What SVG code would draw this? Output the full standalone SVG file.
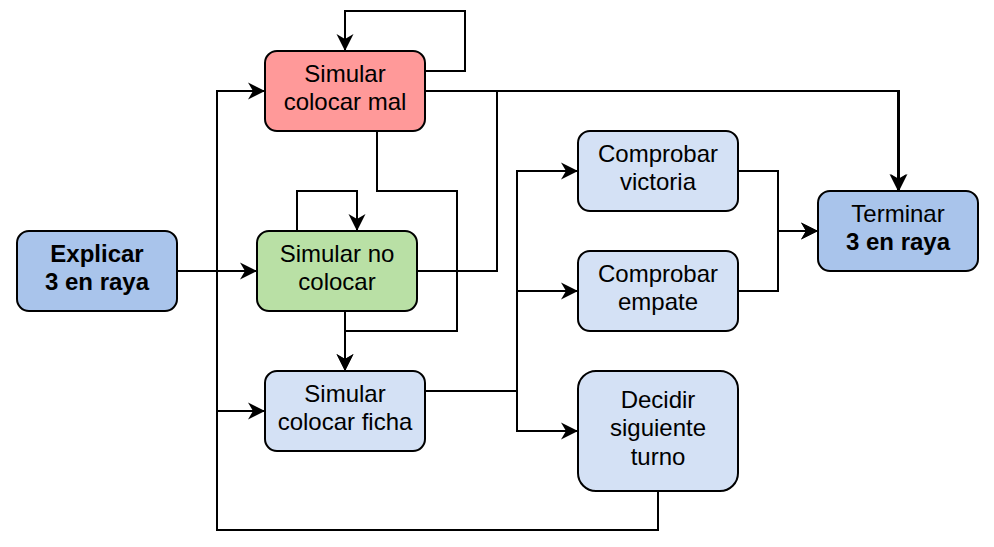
<svg xmlns="http://www.w3.org/2000/svg" width="994" height="547" viewBox="0 0 994 547">
<style>
.box{stroke:#000;stroke-width:2}
.blue{fill:#A9C4EB}
.light{fill:#D4E1F5}
.red{fill:#FF9999}
.green{fill:#B9E0A5}
text{font-family:"Liberation Sans",Arial,Helvetica,sans-serif;font-size:24px;fill:#000;text-anchor:middle}
.b{font-weight:bold}
.edge{fill:none;stroke:#000;stroke-width:2;marker-end:url(#arr)}
.plain{fill:none;stroke:#000;stroke-width:2}
</style>
<defs>
<marker id="arr" viewBox="0 0 18 18" refX="17" refY="9" markerWidth="18" markerHeight="18" orient="auto" markerUnits="userSpaceOnUse">
<path d="M0,0.5 L17,9 L0,17.5 L5,9 Z" fill="#000"/>
</marker>
</defs>
<rect width="994" height="547" fill="#fff"/>
<g id="explicar">
<rect class="box blue" x="17" y="231" width="160" height="80" rx="12"/>
<text class="b" x="97" y="261.7">Explicar</text>
<text class="b" x="97" y="290">3 en raya</text>
</g>
<g id="colocar-mal">
<rect class="box red" x="265" y="51" width="160" height="80" rx="12"/>
<text x="345" y="81.7">Simular</text>
<text x="345" y="110">colocar mal</text>
</g>
<g id="no-colocar">
<rect class="box green" x="257" y="231" width="160" height="80" rx="12"/>
<text x="337" y="261.7">Simular no</text>
<text x="337" y="290">colocar</text>
</g>
<g id="colocar-ficha">
<rect class="box light" x="265" y="371" width="160" height="80" rx="12"/>
<text x="345" y="401.7">Simular</text>
<text x="345" y="430">colocar ficha</text>
</g>
<g id="victoria">
<rect class="box light" x="578" y="131" width="160" height="80" rx="12"/>
<text x="658" y="161.7">Comprobar</text>
<text x="658" y="190">victoria</text>
</g>
<g id="empate">
<rect class="box light" x="578" y="251" width="160" height="80" rx="12"/>
<text x="658" y="281.7">Comprobar</text>
<text x="658" y="310">empate</text>
</g>
<g id="decidir">
<rect class="box light" x="578" y="371" width="160" height="120" rx="18"/>
<text x="658" y="407.5">Decidir</text>
<text x="658" y="436">siguiente</text>
<text x="658" y="464.5">turno</text>
</g>
<g id="terminar">
<rect class="box blue" x="818" y="191" width="160" height="80" rx="12"/>
<text x="898" y="221.7">Terminar</text>
<text class="b" x="898" y="250">3 en raya</text>
</g>
<g id="connectors">
<path class="edge" d="M425,71 H465 V11 H345 V51"/>
<path class="edge" d="M177,271 H257"/>
<path class="edge" d="M658,491 V530 H217 V91 H265"/>
<path class="edge" d="M658,491 V530 H217 V411 H265"/>
<path class="edge" d="M425,91 H898 V191"/>
<path class="edge" d="M417,271 H497 V91 H899 V191"/>
<path class="edge" d="M377,131 V191 H457 V331 H345 V371"/>
<path class="edge" d="M345,311 V371"/>
<path class="edge" d="M297,231 V191 H357 V231"/>
<path class="edge" d="M425,391 H517 V171 H578"/>
<path class="edge" d="M425,391 H517 V291 H578"/>
<path class="edge" d="M425,391 H517 V431 H578"/>
<path class="edge" d="M738,171 H778 V231 H818"/>
<path class="edge" d="M738,291 H778 V231 H818"/>
</g>
</svg>
